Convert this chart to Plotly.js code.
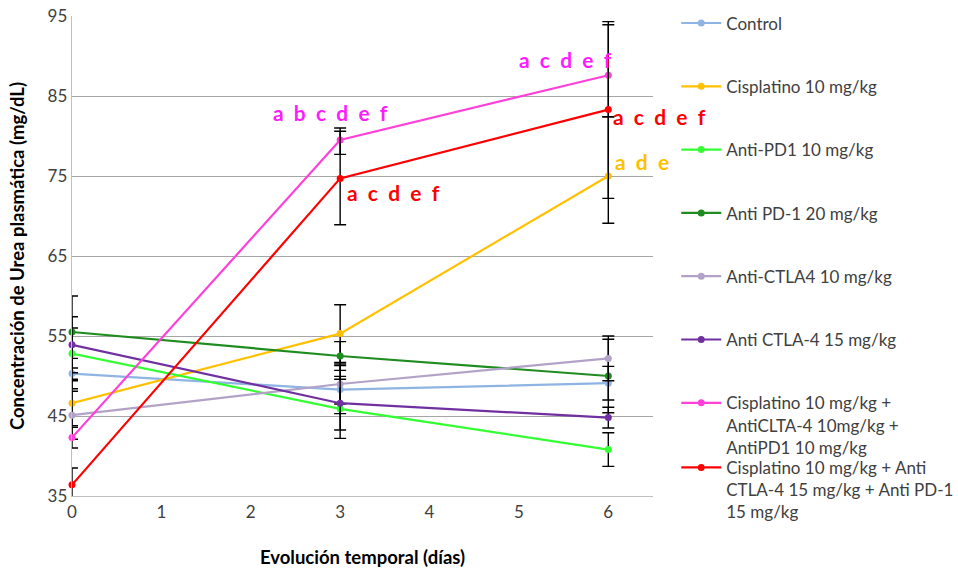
<!DOCTYPE html>
<html>
<head>
<meta charset="utf-8">
<script src="https://cdn.plot.ly/plotly-3.0.1.min.js"></script>
<style>html,body{margin:0;padding:0;background:#fff;}#chart{width:958px;height:568px;}</style>
</head>
<body>
<div id="chart"></div>
<script>
// ---- data ----
const days = [0, 3, 6];
const seriesNames = [
  'Control',
  'Cisplatino 10 mg/kg',
  'Anti-PD1 10 mg/kg',
  'Anti PD-1 20 mg/kg',
  'Anti-CTLA4 10 mg/kg',
  'Anti CTLA-4 15 mg/kg',
  'Cisplatino 10 mg/kg +<br>AntiCLTA-4 10mg/kg +<br>AntiPD1 10 mg/kg',
  'Cisplatino 10 mg/kg + Anti<br>CTLA-4 15 mg/kg + Anti PD-1<br>15 mg/kg'
];
const control      = [50.3, 48.3, 49.1];
const cisplatino   = [46.6, 55.3, 75.0];
const antiPD1_10   = [52.8, 45.9, 40.8];
const antiPD1_20   = [55.5, 52.5, 50.0];
const antiCTLA4_10 = [45.1, 49.0, 52.2];
const antiCTLA4_15 = [53.9, 46.6, 44.8];
const comboCTLA10  = [42.3, 79.5, 87.6];
const comboCTLA15  = [36.4, 74.7, 83.3];

const errPlus = [
  [1.9, 3.0, 2.1],
  [2.8, 3.6, 7.4],
  [3.2, 3.7, 2.1],
  [4.5, 1.8, 4.6],
  [3.0, 2.5, 2.8],
  [3.5, 3.35, 1.3],
  [1.3, 1.5, 6.7],
  [2.1, 5.9, 10.6]
];
const errMinus = [
  [1.9, 3.0, 2.1],
  [2.8, 3.6, 5.9],
  [3.2, 3.7, 2.1],
  [4.5, 1.8, 4.6],
  [3.0, 2.5, 2.8],
  [3.5, 3.35, 1.3],
  [1.3, 1.8, 5.2],
  [2.1, 5.8, 11.1]
];

const labelTexts = ['a b c d e f', 'a c d e f', 'a c d e f', 'a c d e f', 'a d e'];
const labelX     = [2.89, 3.6, 5.52, 6.57, 6.38];
const labelY     = [83.0, 73.0, 89.6, 82.5, 76.8];

const yTicks = [35, 45, 55, 65, 75, 85, 95];
const xTicks = [0, 1, 2, 3, 4, 5, 6];
const xRange = [0, 6.5];

// ---- styles ----
const colors = ['#8EB4E3', '#FFC000', '#33FF33', '#1E8C1E', '#B3A2C7', '#7030A0', '#FF40D9', '#FF0000'];
const labelColors = ['#FF1AFF', '#FF0000', '#FF1AFF', '#FF0000', '#FFC000'];
const FONT = 'Lato, "Open Sans", "DejaVu Sans", sans-serif';

const allValues = [control, cisplatino, antiPD1_10, antiPD1_20, antiCTLA4_10, antiCTLA4_15, comboCTLA10, comboCTLA15];

const traces = allValues.map((vals, i) => ({
  type: 'scatter',
  mode: 'lines+markers',
  x: days,
  y: vals,
  name: seriesNames[i],
  legendgroup: 'g' + i,
  legend: i === 7 ? 'legend2' : 'legend',
  line: {color: colors[i], width: 2.2},
  marker: {color: colors[i], size: 7},
  error_y: {
    type: 'data', symmetric: false,
    array: errPlus[i], arrayminus: errMinus[i],
    color: '#000000', thickness: 1.4, width: 6
  },
  cliponaxis: false
}));

const annotations = labelTexts.map((t, i) => {
  const outside = labelX[i] > xRange[1];
  return {
    x: outside ? (labelX[i] - xRange[0]) / (xRange[1] - xRange[0]) : labelX[i],
    xref: outside ? 'paper' : 'x',
    y: labelY[i], yref: 'y',
    xanchor: 'center', yanchor: 'middle',
    text: '<b>' + t.split(' ').join('\u00A0 ') + '</b>',
    showarrow: false,
    font: {family: FONT, size: 21, color: labelColors[i]}
  };
});

const layout = {
  width: 958, height: 568,
  margin: {l: 72, r: 305, t: 16, b: 72, autoexpand: false},
  paper_bgcolor: '#ffffff', plot_bgcolor: '#ffffff',
  font: {family: FONT, size: 17, color: '#404040'},
  showlegend: true,
  xaxis: {
    range: xRange,
    tickvals: xTicks,
    ticktext: xTicks.map(String),
    showgrid: false, zeroline: false,
    showline: true, linecolor: '#BFBFBF', linewidth: 1.3,
    ticks: '',
    tickfont: {family: FONT, size: 17, color: '#404040'},
    title: {text: '<b>Evolución temporal (días)</b>', font: {family: FONT, size: 18.5, color: '#000000'}, standoff: 32}
  },
  yaxis: {
    range: [35, 95],
    tickvals: yTicks,
    ticktext: yTicks.map(String),
    showgrid: true, gridcolor: '#A6A6A6', gridwidth: 1,
    zeroline: false,
    showline: true, linecolor: '#BFBFBF', linewidth: 1.3,
    ticks: '',
    tickfont: {family: FONT, size: 17, color: '#404040'},
    title: {text: '<b>Concentración de Urea plasmática (mg/dL)</b>', font: {family: FONT, size: 18.5, color: '#000000'}, standoff: 18}
  },
  legend: {
    x: 1.04, y: 1.022, xanchor: 'left', yanchor: 'top',
    traceorder: 'grouped', tracegroupgap: 38.2, valign: 'top',
    maxheight: 600,
    font: {family: FONT, size: 17, color: '#404040'},
    bgcolor: 'rgba(0,0,0,0)', itemwidth: 40
  },
  legend2: {
    x: 1.04, y: 0.096, xanchor: 'left', yanchor: 'top', valign: 'top',
    maxheight: 600,
    font: {family: FONT, size: 17, color: '#404040'},
    bgcolor: 'rgba(0,0,0,0)', itemwidth: 40
  },
  annotations: annotations
};

Plotly.newPlot('chart', traces, layout, {displayModeBar: false, staticPlot: true});
</script>
</body>
</html>
